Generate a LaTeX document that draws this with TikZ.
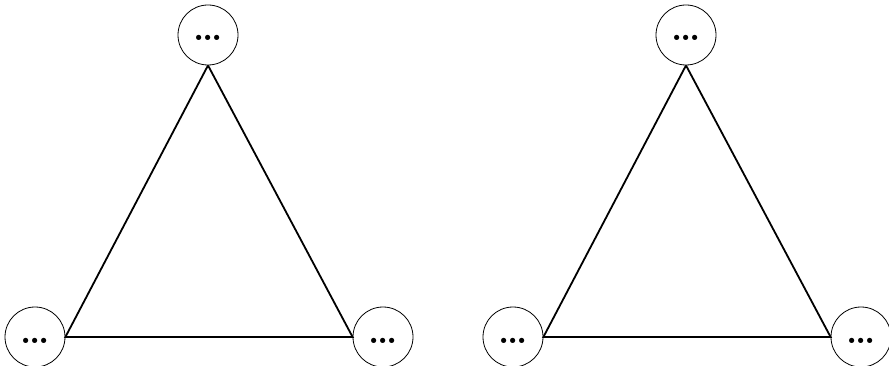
\documentclass[tikz,border=0pt]{standalone}
\newcommand{\mydots}{\raisebox{-6pt}[0pt][0pt]{.\kern-2pt.\kern-2pt.}}
\begin{document}
\begin{tikzpicture}[x=1pt,y=-1pt,
  vert/.style={circle,draw,line width=0.8pt,minimum size=60pt,inner sep=0pt,text height=0pt,text depth=0pt,font=\bfseries\fontsize{36}{36}\selectfont},
  edge/.style={line width=1.8pt}]
\useasboundingbox (0,0) rectangle (889,366);
\node[vert] (t1) at (208,35) {\mydots};
\node[vert] (l1) at (35,337) {\mydots};
\node[vert] (r1) at (383,337) {\mydots};
\node[vert] (t2) at (686,35) {\mydots};
\node[vert] (l2) at (513,337) {\mydots};
\node[vert] (r2) at (861,337) {\mydots};
\draw[edge] (t1.south) -- (l1.east) -- (r1.west) -- (t1.south);
\draw[edge] (t2.south) -- (l2.east) -- (r2.west) -- (t2.south);
\end{tikzpicture}
\end{document}
